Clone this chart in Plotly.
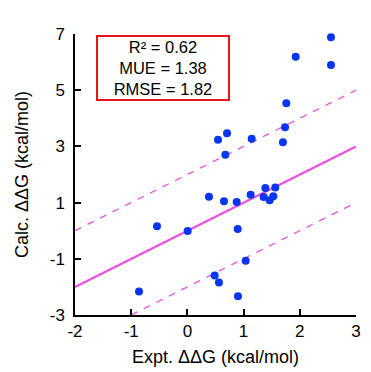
import plotly.graph_objects as go

expt = [2.555, 1.927, 2.555, 1.76, 1.737, 0.545, 0.705, 1.144, 0.675, 1.70,
        0.384, 0.651, 0.877, 1.126, 1.387, 1.357, 1.464, 1.529, 1.564,
        -0.541, 0.005, 0.895, 1.037, 0.485, 0.562, 0.90, -0.861]
calc = [6.88, 6.19, 5.90, 4.54, 3.68, 3.24, 3.47, 3.27, 2.70, 3.15,
        1.21, 1.05, 1.02, 1.28, 1.52, 1.20, 1.08, 1.23, 1.54,
        0.16, -0.01, 0.06, -1.07, -1.59, -1.84, -2.33, -2.16]

line_x = [-2, 3]
ident_y = [-2, 3]
upper_x = [-2, 3]
upper_y = [0, 5]
lower_x = [-1, 3]
lower_y = [-3, 1]

stats_text = "R² = 0.62<br>MUE = 1.38<br>RMSE = 1.82"

x_ticks = [-2, -1, 0, 1, 2, 3]
x_labels = ["-2", "-1", "0", "1", "2", "3"]
y_ticks = [-3, -1, 1, 3, 5, 7]
y_labels = ["-3", "-1", "1", "3", "5", "7"]

magenta = "#f050e0"
blue = "#0836f0"
font_family = "Arial, Liberation Sans, sans-serif"

fig = go.Figure()
fig.add_trace(go.Scatter(x=upper_x, y=upper_y, mode="lines",
                         line=dict(color=magenta, width=1.3, dash="7px,7px"), hoverinfo="skip"))
fig.add_trace(go.Scatter(x=lower_x, y=lower_y, mode="lines",
                         line=dict(color=magenta, width=1.3, dash="7px,7px"), hoverinfo="skip"))
fig.add_trace(go.Scatter(x=line_x, y=ident_y, mode="lines",
                         line=dict(color=magenta, width=2.2), hoverinfo="skip"))
fig.add_trace(go.Scatter(x=expt, y=calc, mode="markers",
                         marker=dict(color=blue, size=8), cliponaxis=False))

fig.add_annotation(xref="paper", yref="paper", x=0.313, y=0.880,
                   xanchor="center", yanchor="middle", text=stats_text,
                   showarrow=False, align="center",
                   font=dict(family=font_family, size=16.5, color="black"),
                   bordercolor="#e8141c", borderwidth=2, borderpad=2,
                   bgcolor="white", width=126, height=58)

axis_common = dict(showline=True, linecolor="black", linewidth=1.5,
                   ticks="inside", ticklen=6, tickwidth=1.5, tickcolor="black",
                   showgrid=False, zeroline=False, mirror=False, automargin=False,
                   tickfont=dict(family=font_family, size=17, color="black"))

fig.update_xaxes(range=[-2, 3], tickvals=x_ticks, ticktext=x_labels, **axis_common,
                 title=dict(text="Expt. ΔΔG (kcal/mol)", standoff=10,
                            font=dict(family=font_family, size=18, color="black")))
fig.update_yaxes(range=[-3, 7], tickvals=y_ticks, ticktext=y_labels, **axis_common,
                 ticklabelstandoff=5,
                 title=dict(text="Calc. ΔΔG (kcal/mol)", standoff=16,
                            font=dict(family=font_family, size=18, color="black")))

fig.update_layout(width=371, height=372, showlegend=False,
                  margin=dict(l=67, r=23, t=26, b=65),
                  plot_bgcolor="white", paper_bgcolor="white")

fig.write_html("out.html")
